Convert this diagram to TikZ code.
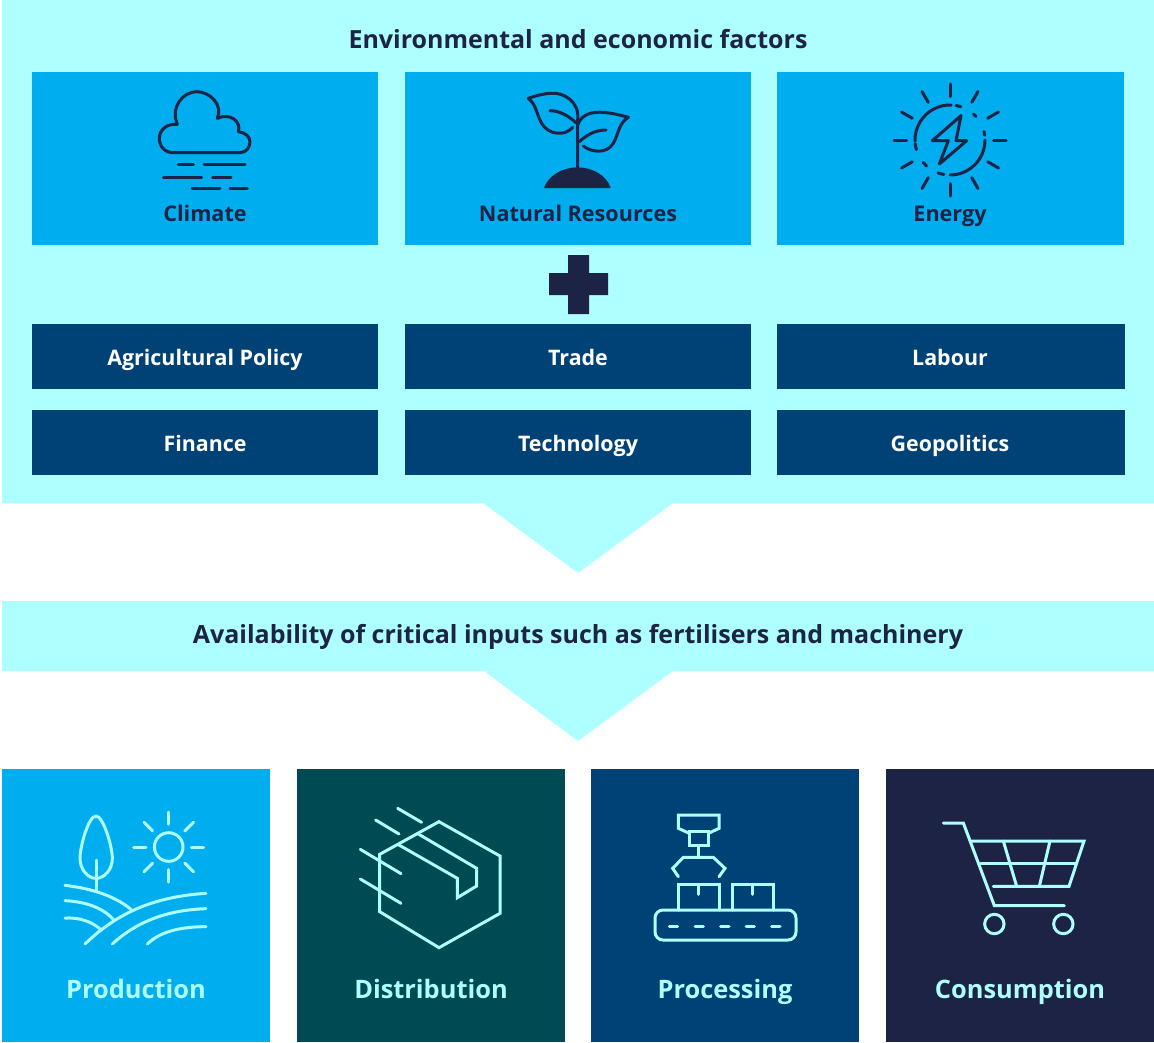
\documentclass[tikz,border=0pt]{standalone}
\usepackage{fontspec}
\setmainfont{Open Sans}
\definecolor{panel}{HTML}{AEFFFF}
\definecolor{sky}{HTML}{00AEEF}
\definecolor{deep}{HTML}{004275}
\definecolor{navy}{HTML}{1C2344}
\definecolor{teal}{HTML}{004A53}
\tikzset{
 headtext/.style={font=\fontsize{25}{30}\selectfont\bfseries,text=navy,inner sep=0,anchor=base},
 iconlabel/.style={font=\fontsize{21.6}{27}\selectfont\bfseries,text=navy,inner sep=0,anchor=base},
 barlabel/.style={font=\fontsize{21.4}{27}\selectfont\bfseries,text=white,inner sep=0,anchor=base},
 stagelabel/.style={font=\fontsize{25.4}{31}\selectfont\bfseries,text=panel,inner sep=0,anchor=base},
 darkicon/.style={draw=navy,line width=3pt,line cap=round,line join=round},
 lighticon/.style={draw=panel,line width=3pt,line cap=round,line join=miter},
 zoomed/.style={shift={#1},x=0.33333pt,y=-0.33333pt}
}
\begin{document}
\begin{tikzpicture}[x=1pt,y=-1pt]
\useasboundingbox (0,0) rectangle (1154,1042);
\fill[white] (0,0) rectangle (1154,1042);
% panels
\fill[panel] (2,0) -- (1154,0) -- (1154,503) -- (673,503) -- (578,573) -- (483,503) -- (2,503) -- cycle;
\fill[panel] (2,601) -- (1154,601) -- (1154,671) -- (673,671) -- (578,741) -- (484,671) -- (2,671) -- cycle;
\node[headtext] (title) at (578,48) {Environmental and economic factors};
\node[headtext] (inputs) at (578,643) {Availability of critical inputs such as fertilisers and machinery};
% sky cards
\fill[sky] (32,72) rectangle (378,245);
\fill[sky] (405,72) rectangle (751,245);
\fill[sky] (777,72) rectangle (1124,245);
\node[iconlabel] (climate) at (205,221) {Climate};
\node[iconlabel] (natural) at (578,221) {Natural Resources};
\node[iconlabel] (energy) at (950,221) {Energy};
% plus
\fill[navy] (568,255) -- (589,255) -- (589,273) -- (608,273) -- (608,295) -- (589,295) -- (589,314) -- (568,314) -- (568,295) -- (549,295) -- (549,273) -- (568,273) -- cycle;
% bars
\foreach \xa/\xb/\ya/\yb in {32/378/324/389,405/751/324/389,777/1125/324/389,32/378/410/475,405/751/410/475,777/1125/410/475}
  \fill[deep] (\xa,\ya) rectangle (\xb,\yb);
\node[barlabel] (policy) at (205,365) {Agricultural Policy};
\node[barlabel] (trade) at (578,365) {Trade};
\node[barlabel] (labour) at (950,365) {Labour};
\node[barlabel] (finance) at (205,451) {Finance};
\node[barlabel] (tech) at (578,451) {Technology};
\node[barlabel] (geo) at (950,451) {Geopolitics};
% stages
\fill[sky] (2,769) rectangle (270,1042);
\fill[teal] (297,769) rectangle (565,1042);
\fill[deep] (591,769) rectangle (859,1042);
\fill[navy] (886,769) rectangle (1154,1042);
\node[stagelabel] (prod) at (136,998) {Production};
\node[stagelabel] (dist) at (431,998) {Distribution};
\node[stagelabel] (proc) at (725,998) {Processing};
\node[stagelabel] (cons) at (1020,998) {Consumption};
% cloud icon
\begin{scope}[zoomed={(130,75)},darkicon]
\draw (130,233) -- (330,233) .. controls (350,233) and (360,215) .. (360,200) .. controls (360,185) and (345,172) .. (325,170)
 .. controls (335,140) and (300,112) .. (262,130) .. controls (280,90) and (240,50) .. (200,50) .. controls (160,50) and (120,95) .. (142,148)
 .. controls (110,145) and (88,165) .. (88,190) .. controls (88,215) and (105,233) .. (130,233) -- cycle;
\draw (145,268) -- (190,268) (222,268) -- (345,268) (100,306) -- (215,306) (248,306) -- (303,306) (186,340) -- (270,340) (300,340) -- (352,340);
\end{scope}
% plant icon
\begin{scope}[zoomed={(500,80)},darkicon]
\draw (233,262) -- (233,120) .. controls (240,65) and (190,35) .. (150,40) .. controls (125,42) and (105,48) .. (85,55)
 .. controls (110,75) and (110,105) .. (125,130) .. controls (145,165) and (195,170) .. (218,142);
\draw (150,92) .. controls (180,92) and (205,108) .. (228,128);
\draw (233,135) .. controls (245,100) and (280,95) .. (310,97) .. controls (335,99) and (360,105) .. (385,112)
 .. controls (355,130) and (355,165) .. (340,190) .. controls (320,222) and (275,218) .. (250,198);
\draw (318,150) .. controls (285,150) and (260,165) .. (238,185);
\fill[navy,draw=none] (132,324) .. controls (145,285) and (190,262) .. (232,262) .. controls (275,262) and (320,285) .. (332,324) -- cycle;
\end{scope}
% energy icon
\begin{scope}[shift={(950,140)},darkicon]
\foreach \a in {0,30,...,330} \draw (\a:43.5pt) -- (\a:56pt);
\foreach \s/\e in {88/182,186/196,220/228,250/260,270/360,8/14,42/48,72/80}
  \draw (\s:35pt) arc[start angle=\s,end angle=\e,radius=35pt];
\end{scope}
\begin{scope}[zoomed={(880,75)},darkicon]
\draw (243,122) -- (157,197) -- (205,197) -- (178,267) -- (260,197) -- (228,197) -- cycle;
\end{scope}
% production icon
\begin{scope}[shift={(168.7,847)},lighticon,line cap=round]
\draw (0,0) circle[radius=14.3pt];
\foreach \a in {0,45,...,315} \draw (\a:22.7pt) -- (\a:35pt);
\end{scope}
\begin{scope}[zoomed={(50,800)},lighticon,line cap=round]
\draw (138,48) .. controls (115,48) and (90,140) .. (90,175) .. controls (90,210) and (115,235) .. (138,235) .. controls (162,235) and (187,210) .. (187,175) .. controls (187,140) and (160,48) .. (138,48) -- cycle;
\draw (138,180) -- (138,272);
\draw (45,256) .. controls (120,265) and (190,285) .. (243,328);
\draw (45,302) .. controls (110,305) and (160,325) .. (190,358);
\draw (45,354) .. controls (90,352) and (125,365) .. (150,387);
\draw (105,432) .. controls (200,340) and (310,290) .. (468,280);
\draw (187,432) .. controls (260,365) and (350,330) .. (468,326);
\draw (292,432) .. controls (330,395) and (390,380) .. (468,380);
\end{scope}
% box icon
\begin{scope}[zoomed={(345,795)},lighticon]
\draw (282,80) -- (465,183) -- (465,355) -- (282,458) -- (104,350) -- (104,178) -- cycle;
\draw (220,117) -- (395,220) -- (395,273) -- (337,308) -- (337,250) -- (162,150);
\draw (158,40) -- (230,82) (92,75) -- (162,117) (46,163) -- (168,236) (46,252) -- (168,325);
\end{scope}
% processing icon
\begin{scope}[zoomed={(640,800)},lighticon]
\draw (148,100) -- (115,85) -- (115,45) -- (237,45) -- (237,85) -- (205,100);
\draw (148,93) rectangle (205,137);
\draw (175,137) -- (175,172);
\draw (115,230) -- (98,205) -- (130,172) -- (220,172) -- (255,205) -- (237,230);
\draw (115,330) -- (115,253) -- (237,253) -- (237,330) (175,253) -- (175,283);
\draw (277,330) -- (277,253) -- (400,253) -- (400,330) (338,253) -- (338,283);
\draw[rounded corners=8pt] (45,330) rectangle (468,420);
\foreach \d in {88,165,242,318,395} \draw (\d,378) -- (\d+25,378);
\end{scope}
% cart icon
\begin{scope}[zoomed={(930,810)},lighticon]
\draw (40,39) -- (100,39) -- (193,287) -- (403,287);
\draw (125,93) -- (462,93) -- (417,229) -- (190,229);
\draw (152,160) -- (437,160);
\draw (220,93) -- (260,229) (360,93) -- (328,229);
\draw (193,342) circle[radius=9.7pt];
\draw (400,342) circle[radius=9.7pt];
\end{scope}
\end{tikzpicture}
\end{document}
